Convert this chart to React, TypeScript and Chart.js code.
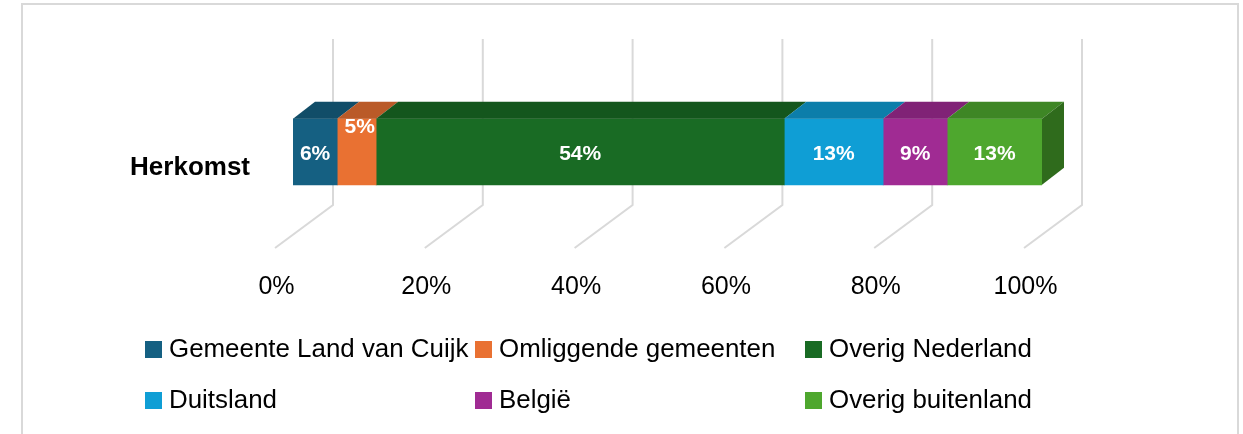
import React, { useEffect, useRef } from "react";
import { Chart, registerables } from "chart.js";

Chart.register(...registerables);

const categories = ["Herkomst"];
const seriesNames = ["Gemeente Land van Cuijk", "Omliggende gemeenten", "Overig Nederland", "Duitsland", "België", "Overig buitenland"];
const seriesValues = [5.9, 5.2, 54.49, 13.2, 8.55, 12.66];
const frontColors = ["#156082", "#E97132", "#196B24", "#0F9ED5", "#A02B93", "#4EA72E"];
const topColors = ["#114D68", "#BA5A28", "#14561D", "#0C7EAA", "#802276", "#3E8625"];
const sideColor = "#2F6B1C";
const tickValues = [0, 20, 40, 60, 80, 100];

const DX = 22, DY = 17;
const BODY = "'Liberation Sans', Arial, sans-serif";

const scene = {
  id: "scene",
  beforeDraw(chart: any) {
    const { ctx, scales } = chart;
    const x = scales.x;
    ctx.save();
    ctx.fillStyle = "#fff";
    ctx.fillRect(0, 0, chart.width, chart.height);
    ctx.strokeStyle = "#D9D9D9";
    ctx.lineWidth = 2;
    ctx.beginPath();
    ctx.moveTo(22, 434); ctx.lineTo(22, 4); ctx.lineTo(1238, 4); ctx.lineTo(1238, 434);
    ctx.stroke();
    tickValues.forEach((v) => {
      const p = x.getPixelForValue(v);
      ctx.beginPath();
      ctx.moveTo(p + 40, 39);
      ctx.lineTo(p + 40, 205);
      ctx.lineTo(p - 18, 248);
      ctx.stroke();
    });
    ctx.restore();
  },
  afterDatasetsDraw(chart: any) {
    const { ctx } = chart;
    ctx.save();
    chart.data.datasets.forEach((ds: any, i: number) => {
      const bar = chart.getDatasetMeta(i).data[0];
      const l = bar.base, r = bar.x, t = bar.y - bar.height / 2, b = bar.y + bar.height / 2;
      ctx.fillStyle = topColors[i];
      ctx.beginPath();
      ctx.moveTo(l, t); ctx.lineTo(l + DX, t - DY); ctx.lineTo(r + DX, t - DY); ctx.lineTo(r, t);
      ctx.closePath();
      ctx.fill();
      if (i === chart.data.datasets.length - 1) {
        ctx.fillStyle = sideColor;
        ctx.beginPath();
        ctx.moveTo(r, t); ctx.lineTo(r + DX, t - DY); ctx.lineTo(r + DX, b - DY); ctx.lineTo(r, b);
        ctx.closePath();
        ctx.fill();
      }
      ctx.fillStyle = "#fff";
      ctx.font = "bold 21px 'Liberation Sans', Arial, sans-serif";
      ctx.textAlign = "center";
      ctx.textBaseline = "middle";
      const lifted = i === 1;
      ctx.fillText(
        Math.round(ds.data[0]) + "%",
        (l + r) / 2 + (lifted ? 3 : 0),
        lifted ? 127 : bar.y + 2
      );
    });
    ctx.textAlign = "left";
    ctx.textBaseline = "middle";
    ctx.font = `25.9px ${BODY}`;
    const cols = [145, 475, 805], rows = [349, 400];
    chart.data.datasets.forEach((ds: any, i: number) => {
      const cx = cols[i % 3], cy = rows[Math.floor(i / 3)];
      ctx.fillStyle = frontColors[i];
      ctx.fillRect(cx, cy - 8, 17, 17);
      ctx.fillStyle = "#000";
      ctx.fillText(ds.label, cx + 24, cy + 1);
    });
    ctx.restore();
  },
};

export default function App() {
  const ref = useRef<HTMLCanvasElement>(null);
  useEffect(() => {
    const chart = new Chart(ref.current!, {
      type: "bar",
      data: {
        labels: categories,
        datasets: seriesNames.map((label, i) => ({
          label,
          data: [seriesValues[i]],
          backgroundColor: frontColors[i],
          borderWidth: 0,
          barThickness: 66,
        })),
      },
      options: {
        indexAxis: "y",
        animation: false,
        responsive: false,
        layout: { padding: { right: 201 } },
        plugins: { legend: { display: false }, tooltip: { enabled: false }, title: { display: false } },
        scales: {
          x: {
            stacked: true,
            min: 0,
            max: 100,
            grid: { display: false },
            border: { display: false },
            ticks: {
              stepSize: 20,
              maxRotation: 0,
              autoSkip: false,
              labelOffset: -16.5,
              padding: 11,
              color: "#000",
              font: { size: 25, family: BODY },
              callback: (v: any) => v + "%",
            },
            afterFit: (s: any) => { s.height = 181; },
          },
          y: {
            stacked: true,
            grid: { display: false },
            border: { display: false },
            ticks: {
              labelOffset: 16,
              padding: 35,
              color: "#000",
              font: { size: 26, weight: "bold", family: BODY },
            },
            afterFit: (s: any) => { s.width = 293; },
          },
        },
      } as any,
      plugins: [scene],
    });
    chart.resize(1243, 434);
    return () => chart.destroy();
  }, []);
  return (
    <div style={{ position: "absolute", left: 0, top: 0, width: 1243, height: 434, overflow: "hidden" }}>
      <canvas ref={ref} width={1243} height={434} style={{ display: "block" }} />
    </div>
  );
}
